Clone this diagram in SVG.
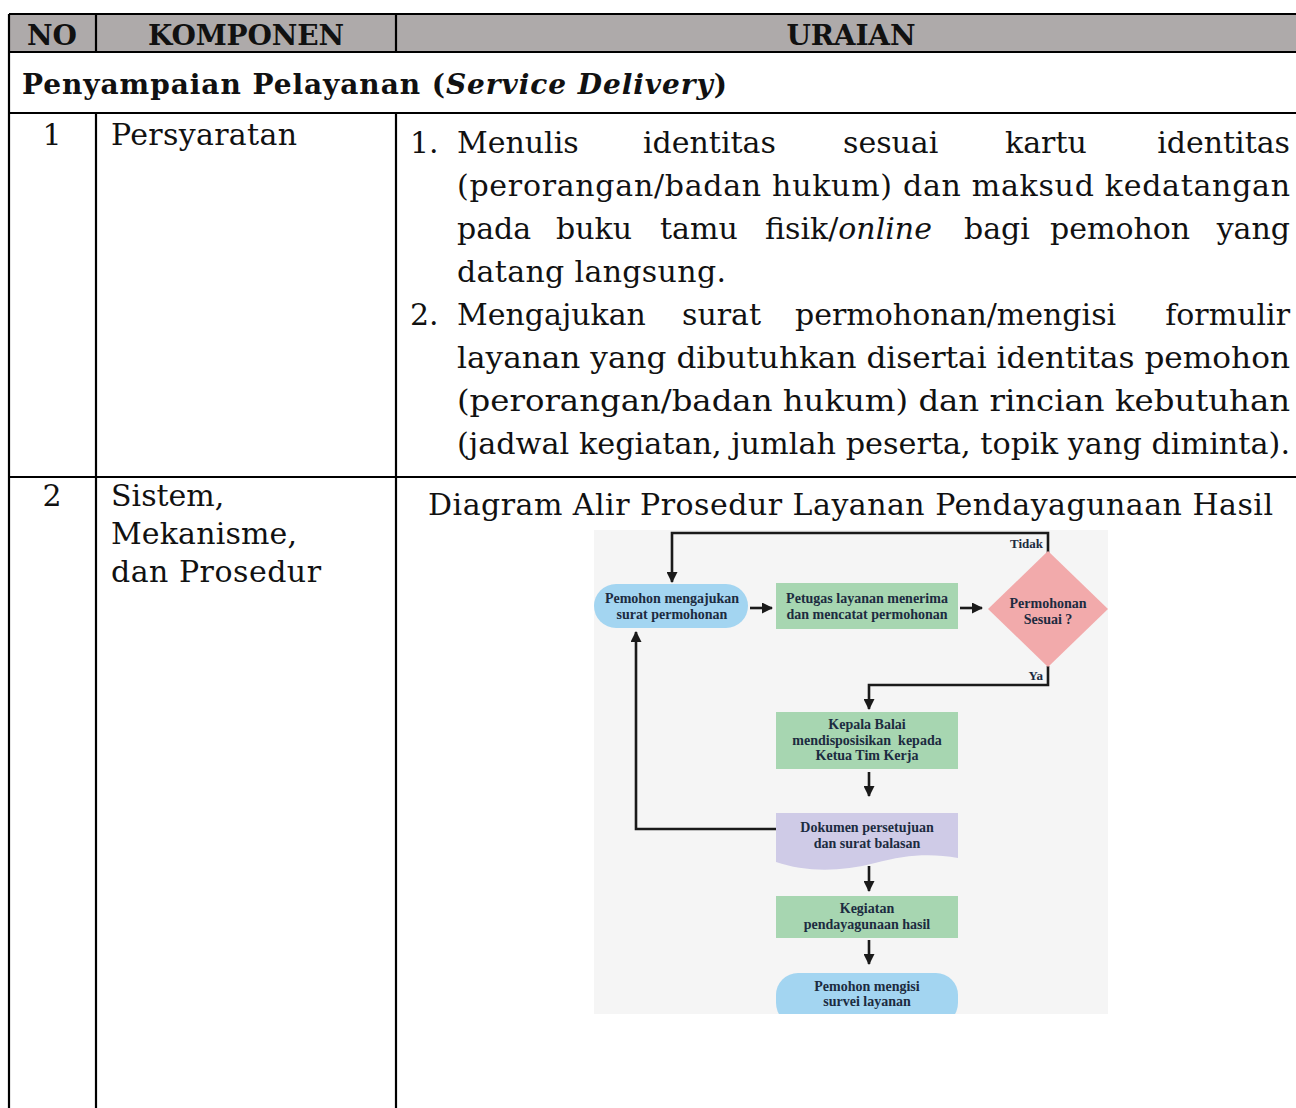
<svg xmlns="http://www.w3.org/2000/svg" width="1296" height="1108" viewBox="0 0 1296 1108">
  <style>
    .body { font-family: "DejaVu Serif", "Liberation Serif", serif; font-size: 30px; fill: #111; }
    .hdr { font-family: "DejaVu Serif", "Liberation Serif", serif; font-size: 28px; font-weight: bold; fill: #111; }
    .grid { stroke: #000; stroke-width: 2.2; fill: none; }
    .fc { font-family: "Liberation Serif", "DejaVu Serif", serif; font-size: 14px; font-weight: bold; fill: #1c2b40; text-anchor: middle; }
    .lbl { font-family: "Liberation Serif", "DejaVu Serif", serif; font-size: 13px; font-weight: bold; fill: #1c2b40; text-anchor: end; }
    .wire { stroke: #1a1a1a; stroke-width: 2.6; fill: none; }
    .blue { fill: #a3d5f1; }
    .green { fill: #a7d6b1; }
    .pink { fill: #f2aaab; }
    .lav { fill: #cfcbe7; }
  </style>
  <defs>
    <marker id="arrow" markerUnits="userSpaceOnUse" markerWidth="11" markerHeight="11" refX="10" refY="5.5" orient="auto">
      <path d="M0,0 L11,5.5 L0,11 z" fill="#1a1a1a"/>
    </marker>
    <clipPath id="figclip">
      <rect x="594" y="530" width="514" height="484"/>
    </clipPath>
  </defs>

  <rect width="1296" height="1108" fill="#fff"/>

  <!-- table: header band and rules -->
  <g id="table">
    <rect x="9" y="14" width="1287" height="38" fill="#aeaaaa"/>
    <path class="grid" d="M9,14 H1296 M9,52 H1296 M9,113 H1296 M9,477 H1296"/>
    <path class="grid" d="M9,14 V1108 M96,14 V52 M396,14 V52 M96,113 V1108 M396,113 V1108"/>
  </g>

  <!-- header row -->
  <g id="header">
    <text class="hdr" x="52" y="45" text-anchor="middle">NO</text>
    <text class="hdr" x="246" y="45" text-anchor="middle" textLength="196">KOMPONEN</text>
    <text class="hdr" x="851" y="45" text-anchor="middle" textLength="129">URAIAN</text>
  </g>

  <!-- section title -->
  <g id="section">
    <text class="hdr" x="22" y="94" textLength="705">Penyampaian Pelayanan (<tspan font-style="italic">Service Delivery</tspan>)</text>
  </g>

  <!-- row 1: Persyaratan -->
  <g id="row1">
    <text class="body" x="52" y="145" text-anchor="middle">1</text>
    <text class="body" x="111" y="145" textLength="186">Persyaratan</text>

    <text class="body" x="410" y="153">1.</text>
    <text class="body" y="153"><tspan x="457">Menulis</tspan><tspan x="643">identitas</tspan><tspan x="843">sesuai</tspan><tspan x="1005">kartu</tspan></text>
    <text class="body" x="1290" y="153" text-anchor="end">identitas</text>
    <text class="body" x="457" y="196" textLength="833">(perorangan/badan hukum) dan maksud kedatangan</text>
    <text class="body" y="239"><tspan x="457">pada</tspan><tspan x="556">buku</tspan><tspan x="660">tamu</tspan><tspan x="765">fisik/<tspan font-style="italic">online</tspan></tspan><tspan x="964">bagi</tspan><tspan x="1050">pemohon</tspan></text>
    <text class="body" x="1290" y="239" text-anchor="end">yang</text>
    <text class="body" x="457" y="282" textLength="269">datang langsung.</text>

    <text class="body" x="410" y="325">2.</text>
    <text class="body" y="325"><tspan x="457">Mengajukan</tspan><tspan x="682">surat</tspan><tspan x="795">permohonan/mengisi</tspan></text>
    <text class="body" x="1290" y="325" text-anchor="end">formulir</text>
    <text class="body" x="457" y="368" textLength="833" lengthAdjust="spacingAndGlyphs">layanan yang dibutuhkan disertai identitas pemohon</text>
    <text class="body" x="457" y="411" textLength="833" lengthAdjust="spacingAndGlyphs">(perorangan/badan hukum) dan rincian kebutuhan</text>
    <text class="body" x="457" y="454" textLength="833" lengthAdjust="spacingAndGlyphs">(jadwal kegiatan, jumlah peserta, topik yang diminta).</text>
  </g>

  <!-- row 2: Sistem, Mekanisme, dan Prosedur -->
  <g id="row2">
    <text class="body" x="52" y="506" text-anchor="middle">2</text>
    <text class="body" x="111" y="506">Sistem,</text>
    <text class="body" x="111" y="544" textLength="186">Mekanisme,</text>
    <text class="body" x="111" y="582" textLength="210">dan Prosedur</text>
    <text class="body" x="428" y="515" textLength="845">Diagram Alir Prosedur Layanan Pendayagunaan Hasil</text>
  </g>

  <!-- flowchart -->
  <g id="flowchart" clip-path="url(#figclip)">
    <rect x="594" y="530" width="514" height="484" fill="#f5f5f5"/>

    <g id="connectors">
      <path class="wire" d="M1048,553 V533 H672 V582" marker-end="url(#arrow)"/>
      <path class="wire" d="M750,608 H772" marker-end="url(#arrow)"/>
      <path class="wire" d="M960,608 H982" marker-end="url(#arrow)"/>
      <path class="wire" d="M1048,666 V685 H869 V709" marker-end="url(#arrow)"/>
      <path class="wire" d="M869,772 V796" marker-end="url(#arrow)"/>
      <path class="wire" d="M777,829 H636 V632" marker-end="url(#arrow)"/>
      <path class="wire" d="M869,866 V891" marker-end="url(#arrow)"/>
      <path class="wire" d="M869,940 V964" marker-end="url(#arrow)"/>
      <text class="lbl" x="1043" y="548">Tidak</text>
      <text class="lbl" x="1043" y="680">Ya</text>
    </g>

    <g id="n-ajukan">
      <rect class="blue" x="594" y="584" width="154" height="44" rx="22"/>
      <text class="fc" x="672" y="603">Pemohon mengajukan</text>
      <text class="fc" x="672" y="619">surat permohonan</text>
    </g>

    <g id="n-terima">
      <rect class="green" x="776" y="583" width="182" height="46"/>
      <text class="fc" x="867" y="603">Petugas layanan menerima</text>
      <text class="fc" x="867" y="619">dan mencatat permohonan</text>
    </g>

    <g id="n-sesuai">
      <path class="pink" d="M1048,551 L1108,609 L1048,667 L988,609 Z"/>
      <text class="fc" x="1048" y="608">Permohonan</text>
      <text class="fc" x="1048" y="624">Sesuai ?</text>
    </g>

    <g id="n-disposisi">
      <rect class="green" x="776" y="712" width="182" height="57"/>
      <text class="fc" x="867" y="729">Kepala Balai</text>
      <text class="fc" x="867" y="745" xml:space="preserve">mendisposisikan  kepada</text>
      <text class="fc" x="867" y="760">Ketua Tim Kerja</text>
    </g>

    <g id="n-dokumen">
      <path class="lav" d="M776,813 H958 V858 C930,853 905,855 875,863 C840,872 805,872 776,862 Z"/>
      <text class="fc" x="867" y="832">Dokumen persetujuan</text>
      <text class="fc" x="867" y="848">dan surat balasan</text>
    </g>

    <g id="n-kegiatan">
      <rect class="green" x="776" y="896" width="182" height="42"/>
      <text class="fc" x="867" y="913">Kegiatan</text>
      <text class="fc" x="867" y="929">pendayagunaan hasil</text>
    </g>

    <g id="n-survei">
      <rect class="blue" x="776" y="973" width="182" height="52" rx="22"/>
      <text class="fc" x="867" y="991">Pemohon mengisi</text>
      <text class="fc" x="867" y="1006">survei layanan</text>
    </g>
  </g>
</svg>
